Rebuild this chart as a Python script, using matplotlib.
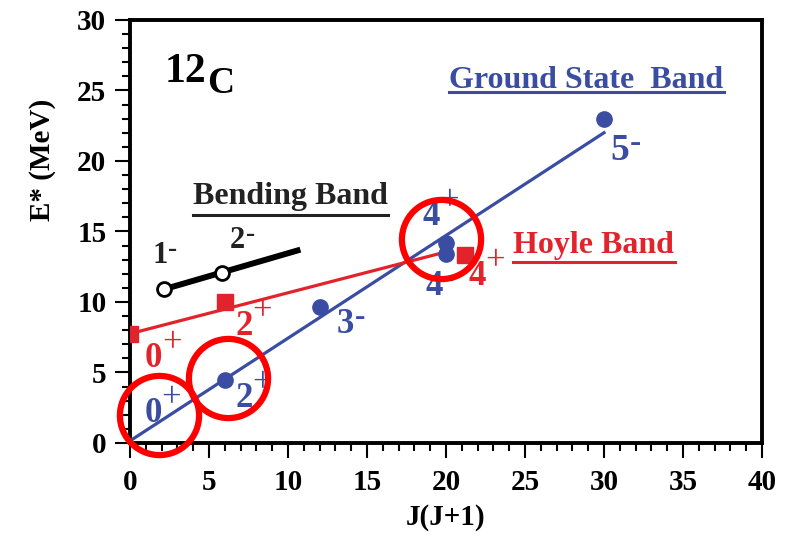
import matplotlib
matplotlib.use('Agg')
import matplotlib.pyplot as plt
from matplotlib.ticker import MultipleLocator

plt.rcParams['font.family'] = ['Liberation Serif', 'DejaVu Serif']
plt.rcParams['font.weight'] = 'bold'

BLUE = '#3A4DA2'
RED = '#E3232B'
RING = '#FF0000'
DARK = '#222222'

# ground state band
gsb_J = [6, 12, 20, 20, 30]
gsb_E = [4.45, 9.65, 14.15, 13.4, 23.0]
gsb_fit_J = [0, 30]
gsb_fit_E = [0.15, 22.0]

# Hoyle band
hoyle_J = [0, 6, 21.2]
hoyle_E = [7.73, 10.0, 13.33]
hoyle_fit_J = [0, 20]
hoyle_fit_E = [7.75, 13.55]

# bending band
bend_J = [2.15, 5.8]
bend_E = [10.9, 12.05]
bend_fit_J = [2.15, 10.6]
bend_fit_E = [10.9, 13.65]

# highlighted states (red rings)
ring_J = [1.85, 6.2, 19.7]
ring_E = [1.95, 4.6, 14.45]

fig = plt.figure(figsize=(7.88, 5.38), dpi=100)
ax = fig.add_axes([0.165, 0.1766, 0.802, 0.7864])

ax.plot(gsb_fit_J, gsb_fit_E, '-', color=BLUE, lw=2.3, zorder=3)
ax.plot(gsb_J, gsb_E, 'o', color=BLUE, ms=11, zorder=4)
ax.plot(hoyle_fit_J, hoyle_fit_E, '-', color=RED, lw=2.3, zorder=3)
ax.plot(hoyle_J, hoyle_E, 's', color=RED, ms=11, zorder=4)
ax.plot(bend_fit_J, bend_fit_E, '-', color='black', lw=4.3, zorder=3)
ax.plot(bend_J, bend_E, 'o', mfc='white', mec='black', mew=2, ms=10, zorder=4)
ax.plot(ring_J, ring_E, 'o', mfc='none', mec=RING, mew=4.5, ms=57, ls='none',
        zorder=6, clip_on=False)


def level(x, y, digit, sign, color, size=25):
    ax.text(x, y, digit, color=color, fontsize=size, fontweight='bold', zorder=5)
    if sign == '+':
        ax.annotate('+', xy=(x, y), xytext=(0.5 * size, 0.42 * size),
                    textcoords='offset points', color=color,
                    fontsize=size, fontweight='normal', zorder=5)
    else:
        ax.annotate('-', xy=(x, y), xytext=(0.5 * size + 0.5, 0.22 * size),
                    textcoords='offset points', color=color,
                    fontsize=size * 0.9, fontweight='bold', zorder=5)


# level labels
level(0.9, 1.5, '0', '+', BLUE)
level(6.65, 2.55, '2', '+', BLUE)
level(13.1, 7.8, '3', '-', BLUE)
level(18.5, 15.45, '4', '+', BLUE)
level(18.7, 10.5, '4', '-', BLUE)
level(30.4, 20.05, '5', '-', BLUE, 27)
level(0.95, 5.4, '0', '+', RED)
level(6.65, 7.66, '2', '+', RED)
level(21.4, 11.2, '4', '+', RED)
level(1.4, 12.77, '1', '-', DARK, 22)
level(6.33, 13.83, '2', '-', DARK, 22)

# band names
ax.text(20.2, 25.18, 'Ground State  Band', color=BLUE, fontsize=23, fontweight='bold')
ax.plot([20.2, 37.6], [24.9, 24.9], color=BLUE, lw=2.2)
ax.text(24.24, 13.48, 'Hoyle Band', color=RED, fontsize=23, fontweight='bold')
ax.plot([24.24, 34.5], [12.84, 12.84], color=RED, lw=2.2)
ax.text(3.99, 16.95, 'Bending Band', color=DARK, fontsize=23, fontweight='bold')
ax.plot([3.99, 16.3], [16.17, 16.17], color=DARK, lw=2.2)

ax.text(2.2, 25.6, '12', fontsize=30, fontweight='bold')
ax.text(4.87, 24.8, 'C', fontsize=27, fontweight='bold')

ax.set_xlim(0, 40)
ax.set_ylim(0, 30)
ax.xaxis.set_major_locator(MultipleLocator(5))
ax.xaxis.set_minor_locator(MultipleLocator(1))
ax.yaxis.set_major_locator(MultipleLocator(5))
ax.yaxis.set_minor_locator(MultipleLocator(1))
ax.tick_params(which='major', direction='out', length=11, width=1.5, labelsize=21, pad=6)
ax.tick_params(which='minor', direction='out', length=6, width=1.5)
ax.tick_params(axis='x', which='major', pad=8)
for lab in ax.get_xticklabels() + ax.get_yticklabels():
    lab.set_fontweight('bold')
for s in ax.spines.values():
    s.set_linewidth(2.8)

ax.set_xlabel('J(J+1)', fontsize=21, fontweight='bold')
ax.xaxis.set_label_coords(0.5, -0.177)
ax.set_ylabel('E* (MeV)', fontsize=21, fontweight='bold')
ax.yaxis.set_label_coords(-0.139, 0.669)
ax.xaxis.label.set_va('center')
ax.yaxis.label.set_va('center')

fig.savefig('out.png', dpi=100)
